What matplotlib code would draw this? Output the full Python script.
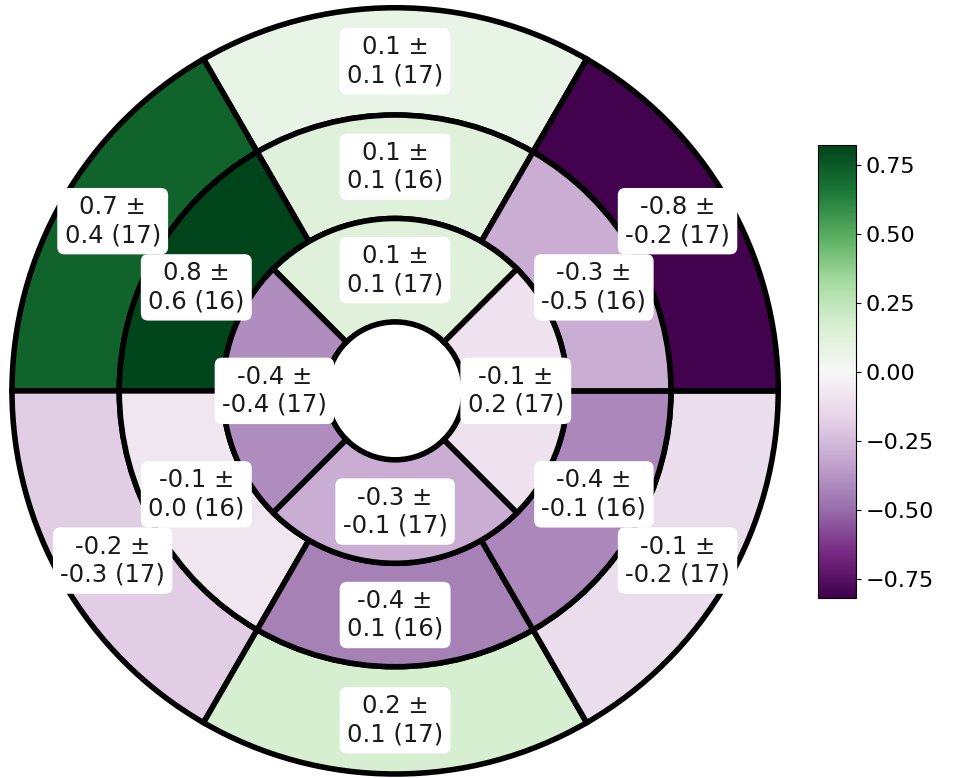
import numpy as np
import matplotlib.pyplot as plt
from matplotlib import colors

# ring radii (hole, apical/mid, mid/basal, outer)
radii = [0.18, 0.45, 0.72, 1.0]

# basal ring, 6 segments, centres at 90,150,210,270,330,30 deg
basal_ang = [90, 150, 210, 270, 330, 30]
basal_mean = [0.08, 0.72, -0.19, 0.17, -0.12, -0.81]
basal_sd = [0.1, 0.4, -0.3, 0.1, -0.2, -0.2]
basal_n = [17, 17, 17, 17, 17, 17]

# mid ring, 6 segments
mid_ang = [90, 150, 210, 270, 330, 30]
mid_mean = [0.13, 0.82, -0.08, -0.44, -0.42, -0.3]
mid_sd = [0.1, 0.6, 0.0, 0.1, -0.1, -0.5]
mid_n = [16, 16, 16, 16, 16, 16]

# apical ring, 4 segments, centres at 90,180,270,0
apical_ang = [90, 180, 270, 0]
apical_mean = [0.13, -0.4, -0.3, -0.1]
apical_sd = [0.1, -0.4, -0.1, 0.2]
apical_n = [17, 17, 17, 17]

# labels were nudged apart a bit so the boxes don't overlap
basal_lab_ang = [90, 149, 211, 270, 329, 31]
mid_lab_ang = [90, 152.5, 207.5, 270, 332.5, 27.5]
apical_lab_ang = apical_ang

cb_ticks = [-0.75, -0.5, -0.25, 0.0, 0.25, 0.5, 0.75]

fig = plt.figure(figsize=(9.59, 7.78), dpi=100)
ax = fig.add_axes([0.0125, 0.0051, 0.799, 0.985], projection='polar')

vmax = max(np.abs(basal_mean + mid_mean + apical_mean))
norm = colors.Normalize(vmin=-vmax, vmax=vmax)
cmap = plt.get_cmap('PRGn')

rings = [
    (basal_ang, basal_lab_ang, basal_mean, basal_sd, basal_n, radii[2], radii[3], 60),
    (mid_ang, mid_lab_ang, mid_mean, mid_sd, mid_n, radii[1], radii[2], 60),
    (apical_ang, apical_lab_ang, apical_mean, apical_sd, apical_n, radii[0], radii[1], 90),
]

for ang, lab_ang, mean, sd, n, r0, r1, w in rings:
    th = np.deg2rad(ang)
    bars = ax.bar(th, r1 - r0, width=np.deg2rad(w), bottom=r0,
                  color=cmap(norm(np.array(mean))), edgecolor='black',
                  linewidth=4, align='center')
    for b in bars:
        b.set_clip_on(False)
    for t, m, s, k in zip(np.deg2rad(lab_ang), mean, sd, n):
        ax.text(t, (r0 + r1) / 2, f"{m:.1f} \u00b1\n{s:.1f} ({k})",
                ha='center', va='center', multialignment='center',
                fontsize=17.5, color='#1a1a1a', zorder=5,
                bbox=dict(boxstyle='round,pad=0.3', facecolor='white',
                          edgecolor='none'))

ax.set_ylim(0, 1)
ax.axis('off')

cax = fig.add_axes([0.853, 0.231, 0.0396, 0.582])
sm = plt.cm.ScalarMappable(norm=norm, cmap=cmap)
cb = fig.colorbar(sm, cax=cax, ticks=cb_ticks)
cb.ax.tick_params(labelsize=16)

fig.savefig('out.png', dpi=100)
